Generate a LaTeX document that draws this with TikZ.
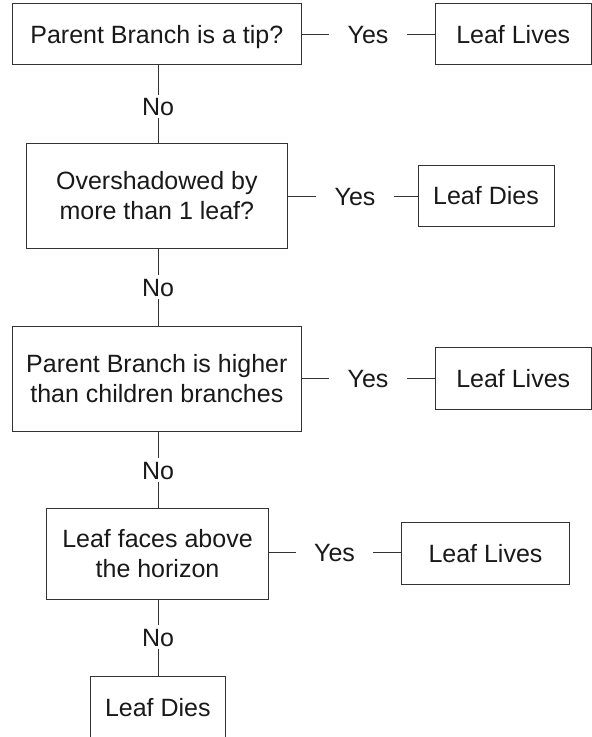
\documentclass[tikz,border=0pt]{standalone}
\usepackage{fontspec}
\setmainfont{Liberation Sans}
\begin{document}
\begin{tikzpicture}[x=1pt,y=-1pt,
  every node/.style={font=\fontsize{25}{30}\selectfont, text=black!90},
  box/.style={draw=black!80, line width=1pt, align=center, inner sep=0pt},
  one/.style={text height=18pt, text depth=0pt},
  lbl/.style={inner xsep=18pt, inner ysep=2.5pt, text height=18pt, text depth=0pt},
  conn/.style={draw=black!80, line width=1pt}]
\useasboundingbox (0,0) rectangle (592,737);
% questions
\node[box, one, minimum width=288.3pt, minimum height=60.6pt] (q1) at (156.85,34) {Parent Branch is a tip?};
\node[box, minimum width=261.7pt, minimum height=105pt] (q2) at (156.85,195.8) {Overshadowed by\\more than 1 leaf?};
\node[box, minimum width=288.3pt, minimum height=105.5pt] (q3) at (156.85,378.75) {Parent Branch is higher\\than children branches};
\node[box, minimum width=221.6pt, minimum height=90.7pt] (q4) at (157.5,553.65) {Leaf faces above\\the horizon};
% outcomes
\node[box, one, minimum width=156.5pt, minimum height=60.6pt] (ll1) at (513.25,34) {Leaf Lives};
\node[box, one, minimum width=136pt, minimum height=61.7pt] (ld1) at (486,195.85) {Leaf Dies};
\node[box, one, minimum width=156.5pt, minimum height=62pt] (ll2) at (513.25,378.3) {Leaf Lives};
\node[box, one, minimum width=167.6pt, minimum height=61.7pt] (ll3) at (485.5,553.15) {Leaf Lives};
\node[box, one, minimum width=135.7pt, minimum height=62pt] (ld2) at (157.85,707) {Leaf Dies};
% labels
\node[lbl] (y1) at (368,34.3) {Yes};
\node[lbl] (y2) at (355,196) {Yes};
\node[lbl] (y3) at (368,378.3) {Yes};
\node[lbl] (y4) at (334.5,552.7) {Yes};
\node[lbl] (n1) at (158,106.5) {No};
\node[lbl] (n2) at (158,287) {No};
\node[lbl] (n3) at (158,470) {No};
\node[lbl] (n4) at (158,637) {No};
% connectors
\draw[conn] (q1.east |- y1.west) -- (y1.west);
\draw[conn] (y1.east) -- (ll1.west |- y1.east);
\draw[conn] (q2.east |- y2.west) -- (y2.west);
\draw[conn] (y2.east) -- (ld1.west |- y2.east);
\draw[conn] (q3.east |- y3.west) -- (y3.west);
\draw[conn] (y3.east) -- (ll2.west |- y3.east);
\draw[conn] (q4.east |- y4.west) -- (y4.west);
\draw[conn] (y4.east) -- (ll3.west |- y4.east);
\draw[conn] (n1.north |- q1.south) -- (n1.north);
\draw[conn] (n1.south) -- (n1.south |- q2.north);
\draw[conn] (n2.north |- q2.south) -- (n2.north);
\draw[conn] (n2.south) -- (n2.south |- q3.north);
\draw[conn] (n3.north |- q3.south) -- (n3.north);
\draw[conn] (n3.south) -- (n3.south |- q4.north);
\draw[conn] (n4.north |- q4.south) -- (n4.north);
\draw[conn] (n4.south) -- (n4.south |- ld2.north);
\end{tikzpicture}
\end{document}
